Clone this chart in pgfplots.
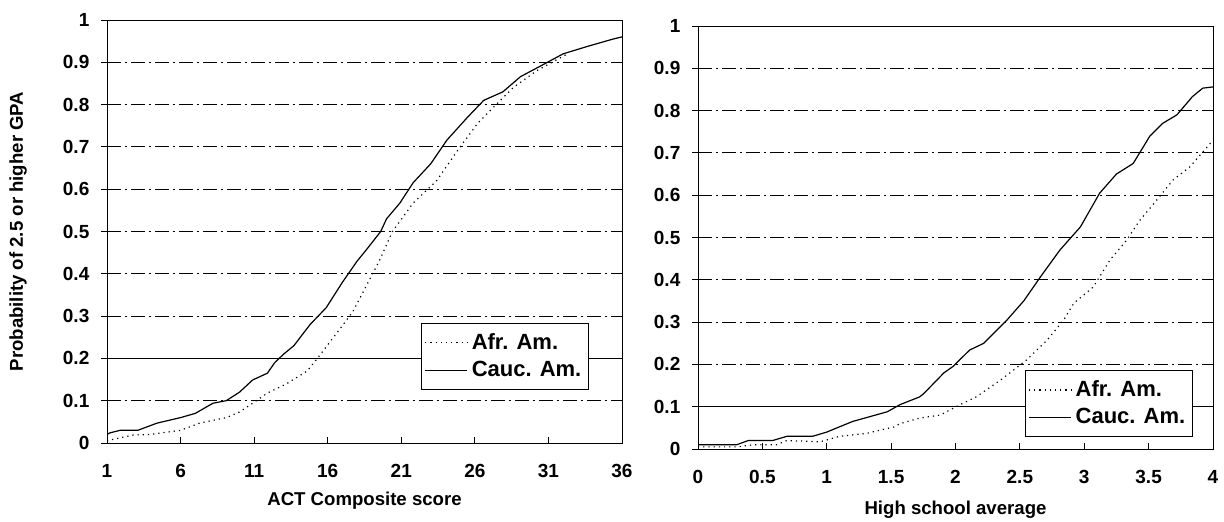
\documentclass[border=0pt]{standalone}
\usepackage{fontspec}
\setmainfont{Liberation Sans}
\usepackage{pgfplots}
\pgfplotsset{compat=1.18}

\pgfplotsset{
  gpa/.style={
    scale only axis, width=257.5pt, height=211.5pt,
    ymin=0, ymax=1,
    ytick={0,0.1,0.2,0.3,0.4,0.5,0.6,0.7,0.8,0.9,1},
    /pgf/number format/assume math mode=true,
    /pgf/number format/fixed,
    ticklabel style={font=\fontsize{9.5}{11}\selectfont\bfseries},
    label style={font=\fontsize{9.3}{11}\selectfont\bfseries},
    xtick align=inside, ytick align=outside,
    major tick length=3pt,
    tick style={black, thin},
    xtick pos=bottom, ytick pos=left,
    yticklabel style={xshift=-2.3pt},
    xticklabel style={yshift=-7pt},
    ymajorgrids,
    major grid style={black, thin, dash pattern=on 7pt off 2pt on 1pt off 2pt},
    axis line style={black, thin},
    legend cell align=left,
    legend style={draw=black, thin, font=\fontsize{11}{12}\selectfont\bfseries,
      inner xsep=1.5pt, inner ysep=3pt, row sep=0.5pt, anchor=south west},
    legend image code/.code={\draw[#1] (0pt,0pt) -- (21pt,0pt);},
    afr/.style={black, dotted, semithick},
    cauc/.style={black, semithick},
  }
}

\begin{document}
\begin{tikzpicture}
\path[use as bounding box] (0,0) rectangle (612pt,261pt);

% ACT composite
\begin{axis}[gpa,
  at={(53.5pt,39.5pt)}, anchor=south west,
  xmin=1, xmax=36, xtick={1,6,11,16,21,26,31,36},
  extra y ticks={0.2}, extra y tick labels={},
  extra y tick style={major grid style={black, thin, solid}},
  xlabel={ACT Composite score},
  xlabel style={at={(axis description cs:0.5,0)}, anchor=center, yshift=-29pt},
  ylabel={Probability of 2.5 or higher GPA},
  ylabel style={at={(axis description cs:0,0.5)}, anchor=center, yshift=44.5pt},
  legend style={at={(axis description cs:0.61,0.125)}},
]
\addplot[afr] coordinates {
(1,0.005)(1.2,0.007)(2.8,0.019)(3.9,0.02)(6.0,0.03)(7.3,0.047)(9.1,0.06)
(10.0,0.073)(10.9,0.094)(11.9,0.118)(13.2,0.14)(14.6,0.17)(15.3,0.2)
(16.4,0.25)(17.7,0.31)(18.6,0.37)(19.5,0.43)(20.4,0.50)(21.8,0.567)
(23.4,0.62)(25.0,0.70)(26.2,0.756)(27.3,0.795)(28.6,0.84)(30.2,0.88)
(32.3,0.92)
};
\addlegendentry{Afr. Am.}
\addplot[cauc] coordinates {
(1,0.02)(1.2,0.024)(1.9,0.03)(3.1,0.03)(4.4,0.047)(6.0,0.06)(7.0,0.07)
(7.5,0.08)(8.2,0.094)(9.1,0.1)(10.0,0.12)(10.9,0.149)(11.9,0.165)
(12.4,0.19)(13.0,0.21)(13.7,0.23)(14.8,0.28)(15.9,0.32)(17.0,0.38)
(18.0,0.43)(18.7,0.46)(19.6,0.50)(20.0,0.53)(20.9,0.567)(21.8,0.615)
(23.0,0.66)(24.1,0.716)(25.5,0.77)(26.6,0.81)(27.9,0.83)(29.1,0.866)
(30.4,0.89)(32.0,0.92)(33.6,0.937)(35.4,0.955)(36,0.96)
};
\addlegendentry{Cauc. Am.}
\end{axis}

% High school average
\begin{axis}[gpa,
  at={(349pt,36.5pt)}, anchor=south west,
  xmin=0, xmax=4, xtick={0,0.5,1,1.5,2,2.5,3,3.5,4},
  extra y ticks={0.1}, extra y tick labels={},
  extra y tick style={major grid style={black, thin, solid}},
  xlabel={High school average},
  xlabel style={at={(axis description cs:0.5,0)}, anchor=center, yshift=-30.5pt},
  legend style={at={(axis description cs:0.635,0.028)}},
]
\addplot[afr] coordinates {
(0,0.005)(0.30,0.005)(0.43,0.01)(0.61,0.01)(0.69,0.02)(0.95,0.017)
(1.1,0.03)(1.31,0.037)(1.52,0.052)(1.57,0.06)(1.72,0.073)(1.88,0.08)
(2.03,0.104)(2.16,0.123)(2.35,0.163)(2.55,0.21)(2.71,0.257)(2.84,0.305)
(2.92,0.345)(3.07,0.383)(3.2,0.447)(3.33,0.494)(3.43,0.54)(3.54,0.58)
(3.69,0.636)(3.82,0.667)(4.0,0.73)
};
\addlegendentry{Afr. Am.}
\addplot[cauc] coordinates {
(0,0.01)(0.30,0.01)(0.39,0.02)(0.48,0.02)(0.58,0.02)(0.69,0.03)
(0.89,0.03)(1.0,0.04)(1.2,0.065)(1.47,0.088)(1.57,0.105)(1.72,0.123)
(1.75,0.13)(1.91,0.18)(1.98,0.195)(2.11,0.234)(2.22,0.25)(2.40,0.305)
(2.53,0.35)(2.66,0.407)(2.81,0.47)(2.97,0.525)(3.12,0.605)(3.25,0.65)
(3.38,0.675)(3.51,0.74)(3.61,0.77)(3.72,0.79)(3.84,0.833)(3.92,0.853)
(4.0,0.856)
};
\addlegendentry{Cauc. Am.}
\end{axis}
\end{tikzpicture}
\end{document}
